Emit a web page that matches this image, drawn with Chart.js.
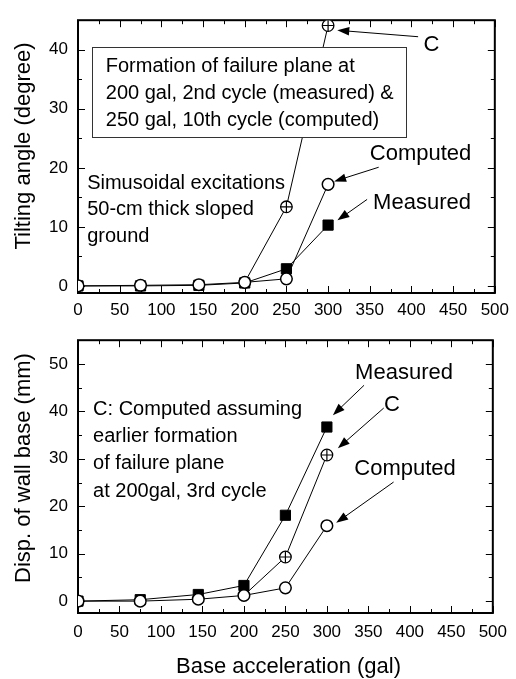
<!DOCTYPE html>
<html>
<head>
<meta charset="utf-8">
<script src="https://cdn.jsdelivr.net/npm/chart.js@4.4.1/dist/chart.umd.min.js"></script>
<style>
  body { margin: 0; background: #fff; }
  canvas { position: absolute; left: 0; }
</style>
</head>
<body>
<canvas id="tilt" width="516" height="320" style="top:0"></canvas>
<canvas id="disp" width="516" height="359" style="top:320px"></canvas>
<script>
// base acceleration (gal)
var accel = [0, 75, 145, 200, 250, 300];

// tilting angle (degree)
var tiltMeasured = [0, 0, 0.1, 0.5, 2.9, 10.3];
var tiltComputed = [0, 0.1, 0.2, 0.6, 1.2, 17.2];
var tiltC = [null, null, null, 0.6, 13.4, 44.1];

// displacement of wall base (mm)
var dispMeasured = [0, 0.3, 1.4, 3.3, 18.1, 36.7];
var dispComputed = [0, 0, 0.4, 1.2, 2.8, 15.9];
var dispC = [null, null, null, 1.2, 9.3, 30.8];

var xTicks = [0, 50, 100, 150, 200, 250, 300, 350, 400, 450, 500];
var tiltTicks = [0, 10, 20, 30, 40];
var dispTicks = [0, 10, 20, 30, 40, 50];

var FONT = '"Liberation Sans", Arial, sans-serif';

function pts(ys) {
  var out = [];
  for (var i = 0; i < accel.length; i++) {
    out.push({x: accel[i], y: ys[i]});
  }
  return out;
}

function makeDatasets(measured, computed, cvals) {
  // C marker = open circle with a plus drawn over it (second dataset, no line)
  var cRadius = [0, 0, 0, 0, 5.8, 5.8];
  return [{
    label: 'C+',
    data: pts(cvals),
    order: 0,
    showLine: false,
    pointStyle: 'cross',
    pointRadius: cRadius,
    pointBorderWidth: 1.2,
    pointBorderColor: '#000'
  }, {
    label: 'Computed',
    data: pts(computed),
    order: 1,
    borderColor: '#000',
    borderWidth: 1,
    pointStyle: 'circle',
    pointRadius: 5.8,
    pointBorderWidth: 1.5,
    pointBackgroundColor: '#fff',
    pointBorderColor: '#000'
  }, {
    label: 'C',
    data: pts(cvals),
    order: 2,
    borderColor: '#000',
    borderWidth: 1,
    pointStyle: 'circle',
    pointRadius: cRadius,
    pointBorderWidth: 1.3,
    pointBackgroundColor: '#fff',
    pointBorderColor: '#000'
  }, {
    label: 'Measured',
    data: pts(measured),
    order: 3,
    borderColor: '#000',
    borderWidth: 1,
    pointStyle: 'rect',
    pointRadius: 7.2,
    pointBorderWidth: 1,
    pointBackgroundColor: '#000',
    pointBorderColor: '#000'
  }];
}

function drawArrow(ctx, x1, y1, x2, y2) {
  var a = Math.atan2(y2 - y1, x2 - x1);
  var L = 12, W = 4.3;
  ctx.beginPath();
  ctx.moveTo(x1, y1);
  ctx.lineTo(x2 - L * 0.8 * Math.cos(a), y2 - L * 0.8 * Math.sin(a));
  ctx.stroke();
  ctx.beginPath();
  ctx.moveTo(x2, y2);
  ctx.lineTo(x2 - L * Math.cos(a) + W * Math.sin(a), y2 - L * Math.sin(a) - W * Math.cos(a));
  ctx.lineTo(x2 - L * Math.cos(a) - W * Math.sin(a), y2 - L * Math.sin(a) + W * Math.cos(a));
  ctx.closePath();
  ctx.fill();
}

// frame with inward ticks on all four sides, plus the notes and arrows
var framePlugin = {
  id: 'frame',
  beforeDatasetsDraw: function(chart, args, opts) {
    var ctx = chart.ctx, a = chart.chartArea;
    var xs = chart.scales.x, ys = chart.scales.y;
    ctx.save();
    ctx.strokeStyle = '#000';
    ctx.lineWidth = 1;
    ctx.beginPath();
    for (var v = 0; v <= 500; v += 25) {
      var px = Math.round(xs.getPixelForValue(v)) + 0.5;
      var len = v % 50 === 0 ? 7 : 4;
      ctx.moveTo(px, a.bottom); ctx.lineTo(px, a.bottom - len);
      ctx.moveTo(px, a.top); ctx.lineTo(px, a.top + len);
    }
    for (var w = 0; w <= opts.ymax; w += 5) {
      var py = Math.round(ys.getPixelForValue(w)) + 0.5;
      var l2 = w % 10 === 0 ? 7 : 4;
      ctx.moveTo(a.left, py); ctx.lineTo(a.left + l2, py);
      ctx.moveTo(a.right, py); ctx.lineTo(a.right - l2, py);
    }
    ctx.stroke();
    ctx.lineWidth = 2;
    ctx.strokeRect(a.left, a.top, a.right - a.left, a.bottom - a.top);
    ctx.restore();
  },
  afterDatasetsDraw: function(chart, args, opts) {
    var ctx = chart.ctx;
    var xs = chart.scales.x, ys = chart.scales.y;
    function X(v) { return xs.getPixelForValue(v); }
    function Y(v) { return ys.getPixelForValue(v); }
    ctx.save();
    ctx.textBaseline = 'middle';

    (opts.boxes || []).forEach(function(b) {
      ctx.fillStyle = '#fff';
      ctx.fillRect(X(b.x0), Y(b.y0), X(b.x1) - X(b.x0), Y(b.y1) - Y(b.y0));
      ctx.strokeStyle = '#333';
      ctx.lineWidth = 1;
      ctx.strokeRect(Math.round(X(b.x0)) + 0.5, Math.round(Y(b.y0)) + 0.5,
        Math.round(X(b.x1) - X(b.x0)), Math.round(Y(b.y1) - Y(b.y0)));
    });

    ctx.fillStyle = '#000';
    ctx.strokeStyle = '#000';
    (opts.texts || []).forEach(function(t) {
      ctx.font = t.size + 'px ' + FONT;
      ctx.textAlign = t.align || 'left';
      for (var i = 0; i < t.lines.length; i++) {
        ctx.fillText(t.lines[i], X(t.x), Y(t.y) + i * t.gap);
      }
    });

    ctx.lineWidth = 1;
    (opts.arrows || []).forEach(function(r) {
      drawArrow(ctx, X(r[0]), Y(r[1]), X(r[2]), Y(r[3]));
    });

    // axis titles
    ctx.font = '22px ' + FONT;
    ctx.textAlign = 'center';
    ctx.save();
    ctx.translate(24, opts.ytitleY);
    ctx.rotate(-Math.PI / 2);
    ctx.fillText(opts.ytitle, 0, 0);
    ctx.restore();
    if (opts.xtitle) {
      ctx.fillText(opts.xtitle, 288.5, opts.xtitleY);
    }
    ctx.restore();
  }
};

function makeOptions(ymin, ymax, yticks, xHeight, xPad, extra) {
  return {
    responsive: false,
    animation: false,
    layout: {padding: {left: 0, right: 17, top: 12, bottom: 0}},
    plugins: {
      legend: {display: false},
      tooltip: {enabled: false},
      frame: extra
    },
    scales: {
      x: {
        type: 'linear',
        min: 0,
        max: 500,
        grid: {display: false, drawTicks: false},
        border: {display: false},
        afterBuildTicks: function(s) { s.ticks = xTicks.map(function(v) { return {value: v}; }); },
        afterFit: function(s) { s.height = xHeight; },
        ticks: {color: '#000', padding: xPad, maxRotation: 0, autoSkip: false,
          font: {family: FONT, size: 17}}
      },
      y: {
        type: 'linear',
        min: ymin,
        max: ymax,
        grid: {display: false, drawTicks: false},
        border: {display: false},
        afterBuildTicks: function(s) { s.ticks = yticks.map(function(v) { return {value: v}; }); },
        afterFit: function(s) { s.width = 78; },
        ticks: {color: '#000', padding: 10, font: {family: FONT, size: 17}}
      }
    }
  };
}

new Chart(document.getElementById('tilt').getContext('2d'), {
  type: 'line',
  data: {datasets: makeDatasets(tiltMeasured, tiltComputed, tiltC)},
  plugins: [framePlugin],
  options: makeOptions(-1.2, 45, tiltTicks, 27, 7, {
    ymax: 45,
    ytitle: 'Tilting angle (degree)',
    ytitleY: 146,
    boxes: [{x0: 16.3, y0: 40.4, x1: 393.5, y1: 25.1}],
    texts: [
      {x: 33.3, y: 37.2, size: 20, gap: 27, lines: ['Formation of failure plane at',
        '200 gal, 2nd cycle (measured) &', '250 gal, 10th cycle (computed)']},
      {x: 11, y: 17.4, size: 20, gap: 26.7, lines: ['Simusoidal excitations',
        '50-cm thick sloped', 'ground']},
      {x: 424, y: 40.8, size: 22, gap: 0, align: 'center', lines: ['C']},
      {x: 350, y: 22.3, size: 22, gap: 0, lines: ['Computed']},
      {x: 354, y: 14.1, size: 22, gap: 0, lines: ['Measured']}
    ],
    arrows: [
      [408, 42.2, 311, 43.3],
      [360.7, 20.1, 307.2, 17.7],
      [346.8, 14.65, 311.2, 11.1]
    ]
  })
});

new Chart(document.getElementById('disp').getContext('2d'), {
  type: 'line',
  data: {datasets: makeDatasets(dispMeasured, dispComputed, dispC)},
  plugins: [framePlugin],
  options: makeOptions(-2.5, 55, dispTicks, 66, 9, {
    ymax: 55,
    ytitle: 'Disp. of wall base (mm)',
    ytitleY: 148,
    xtitle: 'Base acceleration (gal)',
    xtitleY: 346.7,
    texts: [
      {x: 18.2, y: 40.4, size: 20, gap: 27.2, lines: ['C: Computed assuming',
        'earlier formation', 'of failure plane', 'at 200gal, 3rd cycle']},
      {x: 334, y: 48.0, size: 22, gap: 0, lines: ['Measured']},
      {x: 378.5, y: 41.4, size: 22, gap: 0, align: 'center', lines: ['C']},
      {x: 333, y: 27.8, size: 22, gap: 0, lines: ['Computed']}
    ],
    arrows: [
      [344.8, 45.5, 307.2, 39.2],
      [368.5, 40.7, 313.2, 32.2],
      [380.4, 25.1, 311.2, 16.5]
    ]
  })
});
</script>
</body>
</html>
